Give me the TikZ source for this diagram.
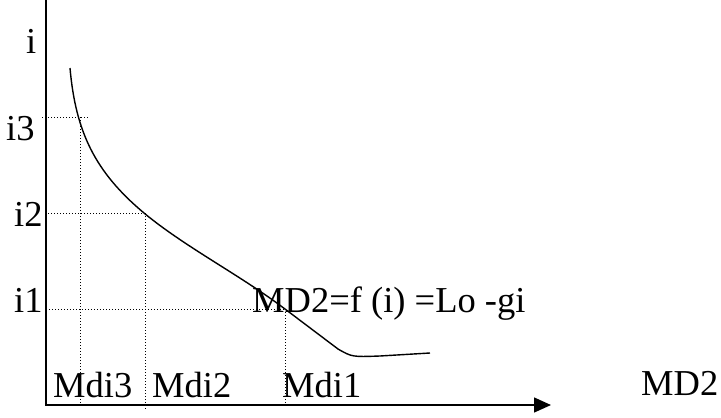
\documentclass[tikz,border=0pt]{standalone}
\usepackage{fontspec}
\setmainfont{Liberation Serif}
\usetikzlibrary{arrows.meta}
\tikzset{
  lbl/.style={anchor=base west, inner sep=0pt, font=\fontsize{36.5}{42}\selectfont},
  guide/.style={line width=1pt, dash pattern=on 1pt off 2pt},
  axis/.style={line width=1.4pt},
}
\begin{document}
\begin{tikzpicture}[x=1pt,y=-1pt]
\useasboundingbox (0,0) rectangle (721,418);
\coordinate (O) at (46,405);
\coordinate (top) at (46,0);
\coordinate (xend) at (551,405);
\draw[axis,-{Triangle[length=17pt,width=15pt]}] (top) -- (O) -- (xend);
% points on the curve
\coordinate (c3) at (80,117);
\coordinate (c2) at (144,213);
\coordinate (c1) at (285,309);
\draw[line width=1.4pt] (70,68) .. controls (75.6,131.8) and (95,172) .. (c2)
  .. controls (185,247) and (240,275) .. (c1) -- (338,349)
  .. controls (352,357) .. (380,356) -- (430,353);
% guide lines
\draw[guide] (42,117) -- (88,117);
\draw[guide] (c3) -- (80,403);
\draw[guide] (48,213) -- (c2);
\draw[guide] (145,213) -- (145,410);
\draw[guide] (O |- c1) -- (c1);
\draw[guide] (c1) -- (285,403);
% labels
\node[lbl] (li) at (26,53) {i};
\node[lbl] (li3) at (6,140) {i3};
\node[lbl] (li2) at (14,226) {i2};
\node[lbl] (li1) at (14,312) {i1};
\node[lbl] (md3) at (53,397) {Mdi3};
\node[lbl] (md2) at (152,397) {Mdi2};
\node[lbl] (md1) at (282,397) {Mdi1};
\node[lbl] (mdx) at (641,395) {MD2};
\node[lbl] (eq) at (252,312) {MD2=f (i) =Lo -gi};
\end{tikzpicture}
\end{document}
